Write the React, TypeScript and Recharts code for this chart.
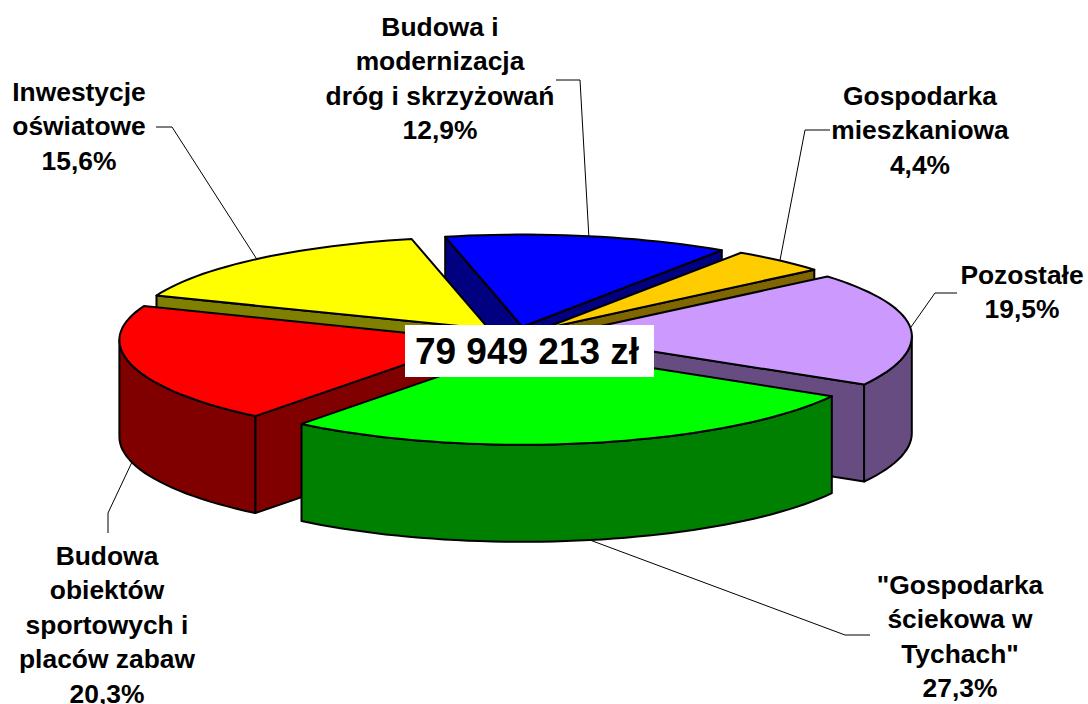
import { Cell, Pie, PieChart } from "recharts";

const NAMES = ["droga", "mieszkania", "pozostale", "scieki", "sport", "oswiata"];
const VALUES = [12.9, 4.4, 19.5, 27.3, 20.3, 15.6];
const LABEL_LINES = [
  ["Budowa i", "modernizacja", "dróg i skrzyżowań"],
  ["Gospodarka", "mieszkaniowa"],
  ["Pozostałe"],
  ['"Gospodarka', "ściekowa w", 'Tychach"'],
  ["Budowa", "obiektów", "sportowych i", "placów zabaw"],
  ["Inwestycje", "oświatowe"],
];
const TOTAL_LABEL = "79 949 213 zł";

const TOP_COLORS = ["#0000FF", "#FFCC00", "#CC99FF", "#00FF00", "#FF0000", "#FFFF00"];
const SIDE_COLORS = ["#000080", "#806600", "#664C80", "#008000", "#800000", "#808000"];
// back to front
const PAINT_ORDER = ["droga", "mieszkania", "pozostale", "oswiata", "sport", "scieki"];

// label block centre x / first baseline, then the elbow of the leader line and where it ends
const LABEL_X = [440, 920, 1022, 960, 107, 79];
const LABEL_Y = [36, 105, 284, 594, 565, 101];
const LEADER_ELBOW = [[580, 80], [805, 130], [935, 293], [845, 635], [108, 513], [172, 127]];
const LEADER_END = [[556, 80], [830, 130], [957, 293], [870, 635], [108, 533], [156, 127]];

const CX = 515;
const CY = 337;
const RADIUS = 357;
const TILT = 0.272;
const BACK_SQUASH = 0.95; // the far half of the pie is a bit flatter in the original
const DEPTH = 97;
const EXPLODE = 40;
const LINE_HEIGHT = 34.4;
const EDGE = 2;

const bend = (y: number) => (y < CY ? CY - (CY - y) * BACK_SQUASH : y);

const raw = (cx: number, cy: number, clock: number, r: number) => {
  const a = (clock * Math.PI) / 180;
  return [cx + r * Math.sin(a), cy - r * Math.cos(a) * TILT];
};
const pt = (cx: number, cy: number, clock: number, r: number, z = 0) => {
  const p = raw(cx, cy, clock, r);
  return [p[0], bend(p[1]) + z];
};
const toPath = (pts: number[][]) =>
  "M" + pts.map((p) => `${p[0].toFixed(1)},${p[1].toFixed(1)}`).join("L") + "Z";

const arc = (cx: number, cy: number, from: number, to: number, r: number, z = 0) => {
  const out: number[][] = [];
  const n = Math.max(2, Math.ceil((to - from) / 2));
  for (let i = 0; i <= n; i++) out.push(pt(cx, cy, from + ((to - from) * i) / n, r, z));
  return out;
};

function makeSlice(only: string) {
  return function Slice(props: any) {
    const name = props.payload?.name ?? props.name;
    if (name !== only) return null;
    const i = NAMES.indexOf(name);
    // recharts angles run counter clockwise from 3 o'clock
    const a = 90 - props.startAngle;
    const b = 90 - props.endAngle;
    const mid = (a + b) / 2;
    const r = props.outerRadius;
    const [ax, ay] = raw(props.cx, props.cy, mid, EXPLODE);
    const apex = [ax, bend(ay)];

    const faces: string[] = [];
    const startSin = Math.sin((a * Math.PI) / 180);
    const endSin = Math.sin((b * Math.PI) / 180);
    const face = (clock: number) => {
      const rim = pt(ax, ay, clock, r);
      return toPath([apex, rim, [rim[0], rim[1] + DEPTH], [apex[0], apex[1] + DEPTH]]);
    };
    if (startSin < 0) faces.push(face(a));
    if (endSin > 0) faces.push(face(b));

    const walls: string[] = [];
    for (const shift of [-360, 0, 360]) {
      const from = Math.max(a, 90 + shift);
      const to = Math.min(b, 270 + shift);
      if (to > from) {
        walls.push(toPath([...arc(ax, ay, from, to, r), ...arc(ax, ay, from, to, r, DEPTH).reverse()]));
      }
    }
    const top = toPath([apex, ...arc(ax, ay, a, b, r)]);

    const norm = ((mid % 360) + 360) % 360;
    const front = norm > 90 && norm < 270;
    const start = pt(ax, ay, mid, r, front ? DEPTH : 0);
    const lines = [...LABEL_LINES[i], `${VALUES[i].toFixed(1).replace(".", ",")}%`];

    return (
      <g>
        <polyline
          points={[start, LEADER_ELBOW[i], LEADER_END[i]].map((p) => p.join(",")).join(" ")}
          fill="none"
          stroke="#000"
          strokeWidth={1}
        />
        {faces.map((d, k) => (
          <path key={k} d={d} fill={SIDE_COLORS[i]} stroke="#000" strokeWidth={EDGE} strokeLinejoin="round" />
        ))}
        {walls.map((d, k) => (
          <path key={k} d={d} fill={SIDE_COLORS[i]} stroke="#000" strokeWidth={EDGE} strokeLinejoin="round" />
        ))}
        <path d={top} fill={TOP_COLORS[i]} stroke="#000" strokeWidth={EDGE} strokeLinejoin="round" />
        <text
          x={LABEL_X[i]}
          y={LABEL_Y[i]}
          textAnchor="middle"
          fontFamily="'Liberation Sans', Arial, sans-serif"
          fontWeight="bold"
          fontSize={26.4}
          fill="#000"
        >
          {lines.map((line, k) => (
            <tspan key={k} x={LABEL_X[i]} y={LABEL_Y[i] + k * LINE_HEIGHT}>
              {line}
            </tspan>
          ))}
        </text>
      </g>
    );
  };
}

const data = NAMES.map((name, i) => ({ name, value: VALUES[i] }));

export default function App() {
  return (
    <div style={{ position: "absolute", left: 0, top: 0, width: 1088, height: 704, background: "#fff", overflow: "hidden" }}>
      <PieChart width={1088} height={704} margin={{ top: 0, right: 0, bottom: 0, left: 0 }}>
        {PAINT_ORDER.map((name) => (
          <Pie
            key={name}
            data={data}
            dataKey="value"
            nameKey="name"
            cx={CX}
            cy={CY}
            innerRadius={0}
            outerRadius={RADIUS}
            startAngle={102.5}
            endAngle={-257.5}
            stroke="none"
            shape={makeSlice(name)}
            isAnimationActive={false}
          >
            {data.map((_, i) => (
              <Cell key={i} fill={TOP_COLORS[i]} />
            ))}
          </Pie>
        ))}
      </PieChart>
      <div
        style={{
          position: "absolute",
          left: 405,
          top: 325,
          width: 249,
          height: 52,
          background: "#fff",
          fontFamily: "'Liberation Sans', Arial, sans-serif",
          fontWeight: "bold",
          fontSize: 37,
          lineHeight: "54px",
          paddingRight: 5,
          boxSizing: "border-box",
          textAlign: "center",
          color: "#000",
          whiteSpace: "nowrap",
        }}
      >
        {TOTAL_LABEL}
      </div>
    </div>
  );
}
